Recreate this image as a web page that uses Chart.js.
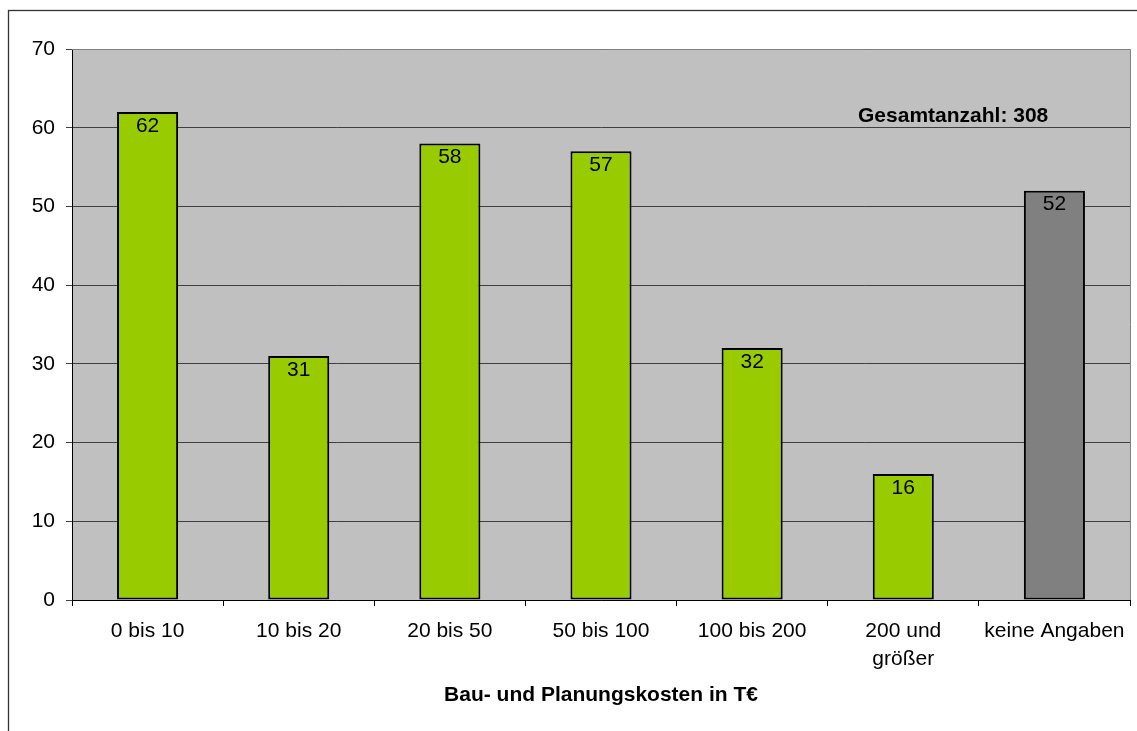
<!DOCTYPE html>
<html>
<head>
<meta charset="utf-8">
<script src="https://cdn.jsdelivr.net/npm/chart.js@4"></script>
<style>
  html, body { margin: 0; padding: 0; background: #fff; overflow: hidden; }
  canvas { display: block; }
</style>
</head>
<body>
<canvas id="kosten" width="1137" height="731"></canvas>
<script>
// Daten
var kategorien = ["0 bis 10", "10 bis 20", "20 bis 50", "50 bis 100", "100 bis 200", ["200 und", "größer"], "keine Angaben"];
var anzahl = [62, 31, 58, 57, 32, 16, 52];
var yTicks = [0, 10, 20, 30, 40, 50, 60, 70];
var gesamtText = "Gesamtanzahl: 308";
var achsenTitel = "Bau- und Planungskosten in T€";

var schrift = "'Liberation Sans', Arial, sans-serif";
var gruen = "#99CC00";
var grau = "#808080";

// Hintergrund der Zeichenflaeche + aeusserer Rahmen
var hintergrund = {
    id: "hintergrund",
    beforeDraw: function (chart) {
        var ctx = chart.ctx;
        var a = chart.chartArea;
        ctx.save();
        ctx.fillStyle = "#C0C0C0";
        ctx.fillRect(a.left, a.top, a.right - a.left, a.bottom - a.top);
        ctx.strokeStyle = "#333333";
        ctx.lineWidth = 1.3;
        ctx.strokeRect(8.5, 10.5, 2000, 2000);
        ctx.restore();
    },
    afterDraw: function (chart) {
        var ctx = chart.ctx;
        var a = chart.chartArea;
        ctx.save();
        ctx.strokeStyle = grau;
        ctx.lineWidth = 1;
        ctx.beginPath();
        ctx.moveTo(a.left, Math.round(a.top) + 0.5);
        ctx.lineTo(Math.round(a.right) + 0.5, Math.round(a.top) + 0.5);
        ctx.lineTo(Math.round(a.right) + 0.5, a.bottom);
        ctx.stroke();
        ctx.restore();
    }
};

// Werte in die Balken schreiben, Gesamtanzahl oben rechts
var beschriftung = {
    id: "beschriftung",
    afterDatasetsDraw: function (chart) {
        var ctx = chart.ctx;
        var meta = chart.getDatasetMeta(0);
        ctx.save();
        ctx.font = "21px " + schrift;
        ctx.fillStyle = "#000";
        ctx.textAlign = "center";
        ctx.textBaseline = "middle";
        meta.data.forEach(function (bar, i) {
            ctx.fillText(String(anzahl[i]), bar.x, bar.y + 14);
        });
        ctx.font = "bold 21px " + schrift;
        var x = chart.scales.x.getPixelForValue(5.33);
        var y = chart.scales.y.getPixelForValue(61.4);
        ctx.fillText(gesamtText, x, y);
        ctx.restore();
    }
};

var ctx = document.getElementById("kosten");

var diagramm = new Chart(ctx, {
    type: "bar",
    data: {
        labels: kategorien,
        datasets: [
            {
                data: anzahl,
                backgroundColor: anzahl.map(function (v, i) { return i === anzahl.length - 1 ? grau : gruen; }),
                borderColor: "#000",
                borderWidth: 2,
                borderSkipped: false,
                categoryPercentage: 1,
                barPercentage: 0.404
            }
        ]
    },
    options: {
        responsive: false,
        animation: false,
        layout: { padding: { left: 0, top: 49, right: 7, bottom: 0 } },
        plugins: {
            legend: { display: false },
            tooltip: { enabled: false }
        },
        scales: {
            x: {
                afterFit: function (s) { s.height = 131; },
                grid: {
                    display: true,
                    offset: true,
                    drawOnChartArea: false,
                    drawTicks: true,
                    tickLength: 6,
                    color: "#000"
                },
                border: { color: "#000", width: 1 },
                ticks: {
                    color: "#000",
                    padding: 11,
                    maxRotation: 0,
                    autoSkip: false,
                    font: { family: schrift, size: 21, lineHeight: 1.333 }
                },
                title: {
                    display: true,
                    text: achsenTitel,
                    color: "#000",
                    padding: { top: 0, bottom: 23 },
                    font: { family: schrift, size: 21, weight: "bold" }
                }
            },
            y: {
                min: yTicks[0],
                max: yTicks[yTicks.length - 1],
                afterFit: function (s) { s.width = 72; },
                afterBuildTicks: function (s) { s.ticks = yTicks.map(function (v) { return { value: v }; }); },
                grid: {
                    color: "#404040",
                    tickLength: 6,
                    drawTicks: true
                },
                border: { color: "#000", width: 1 },
                ticks: {
                    color: "#000",
                    padding: 11,
                    font: { family: schrift, size: 21 }
                }
            }
        }
    },
    plugins: [hintergrund, beschriftung]
});
</script>
</body>
</html>
